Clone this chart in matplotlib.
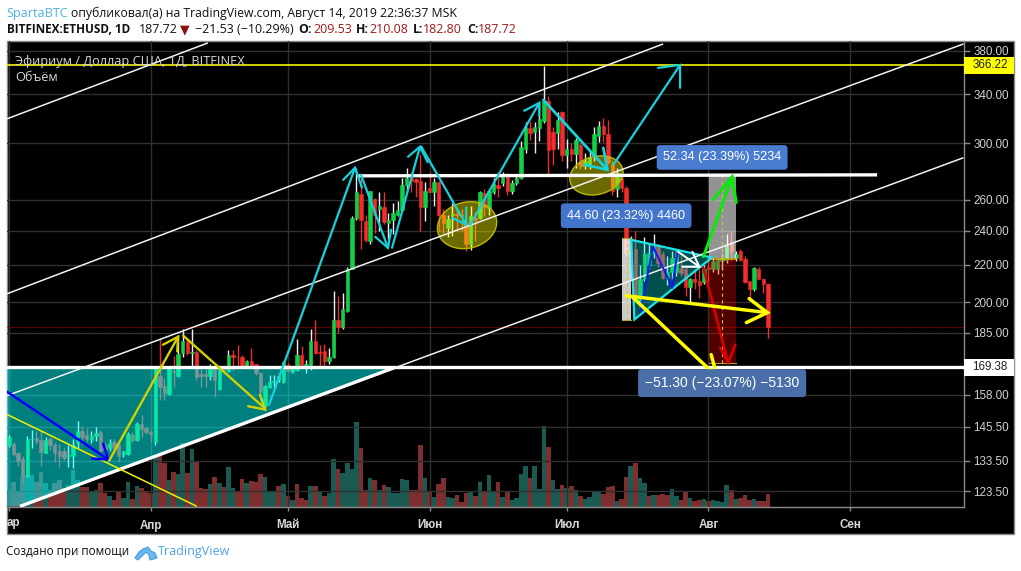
import numpy as np
import matplotlib
matplotlib.use("Agg")
import matplotlib.pyplot as plt
from matplotlib.patches import Polygon, Rectangle

# ---------- data ----------
OPEN = [139,139.4,136.2,134.2,128.5,141,141.3,140.8,136.3,141,
        139,136.9,136.9,135.1,135.2,139.7,144,142.4,140.8,142,
        143.5,138.9,138,140,139,135.9,135.9,142.4,140.8,146.5,
        145,143.6,140,165.6,161.4,158.4,168,165.9,175.8,180.5,
        175.7,176,166.5,166.5,165.6,169,160.4,168.9,168,175,
        174,174,170,172,170.7,167,153.3,161,163.2,164,
        163,170.5,167.6,168.4,175,170.6,170.6,181.4,176,176.4,
        172.2,173.8,191,188,195.5,218,248,264,246,234,
        260.5,253.5,255,245,247,250,253,270,274.5,274,
        272.5,255,268,265,272,250,241.5,250,250.5,250,
        245,232,248,248,264.5,254.5,265,270,271,277,
        266,271.5,275,296,312,309,312,317.5,334,309,
        308,325,291,296,292,299,283,283,291,306,
        314,307.5,285,267,275,268,226,229,198.7,212,
        220,226,231,226,213,216,216,218.5,218,208,
        212,211,210.5,219,218,217.5,222,222.6,233,224,
        228,223.5,211,206.7,218,212.5,209.53]
HIGH = [142.5,140,136.5,135.2,142,144.2,144,144.2,141.8,141.8,
        140,139.4,137.8,139,141,147.7,146,145,144,145.5,
        144.2,140,141,141,139.2,137,143.8,143.5,147.5,150,
        145.5,144.5,169.5,182,165,169.4,174.5,183,187,182,
        187,177,169,168.9,171,170,170,170,177,177,
        179.5,175,172.8,178,171,167.2,162,166.3,166.3,167,
        172,171.5,169.4,182,179,172.8,187,191,179.5,180,
        178,206,203,205,219,249,282,278,250,266,
        261,265,265,251,258,259,275,281.5,279,275,
        292,272,279,275,272.5,254,250,258,254,254,
        256,256,252,266,267,267,274.5,279,279,278.5,
        273,277,302,317,318,317,333,366,339,313,
        325,326,303.5,300,304,300,293,294,313,318,
        320,318.5,287,282,276,269,237,240,220,236,
        232,238,232,228,225,228,229,225,220,213,
        218,218,220,225,224,224,226,238,240,228,
        229,225,211,219,219,213,210.08]
LOW = [138.3,135.2,131.8,125.7,128,137.8,139.4,131.8,136,137.2,
       133.2,131.2,133.8,131.2,131,138,139,140,139.5,140.5,
       136.5,136,137,137.5,133.2,134.6,135.6,140,140.5,141.8,
       143,140,139,156,156,158,161.3,165.2,174,175,
       170,164,161,161,164.2,157,160,167,167.6,168,
       170,169.4,169.5,169.5,166,157,152,160.8,160.8,163,
       162.6,167.2,167,167.8,169.4,167,168.2,175.4,170,170,
       171,173.5,185,187,195,217.6,247,229,233,232,
       239,240,244,235,238,249,252.5,265,265,262,
       240,246,265,256,240,238.5,236,237,240,240,
       228,228.5,234,247.5,249,250,264,262,269,263,
       264,270,274,293,303,293,302,316,276,284,
       296,287,282,287,282,281,281,281,287,301,
       301,285,263,262,265,225,212,200,196.6,211,
       218,224,219,212,209,212,214,214,203,199,
       207,202,209.5,210,216,215,217,221,222,222,
       222,210,202,206,212,205,182.80]
CLOSE = [141.7,135.9,133.5,128.5,141,141.2,140.5,136.6,140.8,139,
         136,135.2,134.5,135.3,139,144,141.8,141,142,143.2,
         137,137.2,139.5,137.8,135.2,136.8,143,140.8,146.5,144.7,
         143.8,143,169,161,158.5,169,167.2,175.2,181,175.5,
         176,165.3,165.6,165.8,169,164,169.4,168.2,175,174,
         173.8,170,172,170.5,166.8,159,161.4,163,163.8,165.5,
         171.7,168,169,175,170.5,170.9,181.4,175.7,175.8,172.2,
         173.8,191,188,196.4,217.7,248,265,247,234.5,265.5,
         250,255.5,245.5,247,251,253,270,275,272.5,272,
         255,265.5,265,271.8,250,245,247.5,250.5,250,249,
         232,249.5,246.5,265,255,266,270.6,268,277,266,
         271.5,275,297,312.4,308,313,319,334,295,296,
         318.7,291,296,292,303,283,287,290,307,314,
         307.5,286,266,278,268,227,228,202.7,212,226,
         227,231,221,213,216,224,226,215.5,208,212,
         210.6,209,218,217.5,222,222.6,224,231,228,226,
         223,210.7,206.7,218.4,212.5,209.5,187.72]
VOLUME = [17,25,16,30,32,32,25,35,24,17,
          24,27,19,22,37,27,20,20,15,17,
          24,14,11,7,15,9,25,8,21,19,
          15,14,52,52,44,27,35,33,64,34,
          58,46,19,18,23,30,24,20,40,19,
          15,28,24,26,25,33,30,15,16,21,
          23,11,7,23,9,7,21,21,15,11,
          14,48,38,34,44,38,85,59,17,29,
          27,17,22,20,14,14,28,27,17,17,
          62,29,15,10,23,29,10,9,12,5,
          14,16,11,25,16,32,15,25,10,15,
          7,9,33,41,29,41,18,81,60,27,
          18,22,19,21,17,11,8,10,15,16,
          13,20,21,6,8,30,41,44,29,24,
          11,12,12,13,12,18,11,7,16,9,
          6,7,8,6,7,6,5,22,17,8,
          9,12,7,8,6,6,13]
VOLUME_SIDE = ("rrrrggrrgr" "rrrgggrrgg" "rrgrrggrgr" "rrgrrgrggr" "grrrgrgrgg"
               "rrgrrrgggr" "grgrrrgrgr" "ggrggggrrg" "rgrgggggrr" "rgrgrrggrr"
               "rgrgrggrgr" "ggggrgggrg" "grgrgrgggg" "rrrgrrgrgg" "rgrrrggrrg"
               "rrgrggggrg" "rrrgrrr")

MONTH_DAYS = [0, 31, 61, 92, 122, 153, 184]
MONTH_LABELS = ["", "Апр", "Май", "Июн", "Июл", "Авг", "Сен"]
PRICE_TICKS = [380, 340, 300, 260, 240, 220, 200, 185, 158, 145.5, 133.5, 123.5]
RESISTANCE = 366.22
SUPPORT = 169.38
LAST_CLOSE = 187.72

# drawings on the chart, as (day, price)
CHANNELS = [[(-0.44, 319.5), (43.5, 387.8)],
            [(-0.44, 204.4), (143.1, 386.8)],
            [(-0.44, 157.6), (208.8, 386.8)],
            [(2.41, 118.8), (208.8, 289.3)]]
THICK_WHITE = [[(2.41, 118.8), (84.5, 169.4)],
               [(76.4, 276.2), (189.9, 276.9)]]
TEAL_ZONE = [(-0.44, 169.4), (84.5, 169.4), (2.41, 118.8), (-0.44, 118.8)]
TRIANGLE = [(136.1, 234.6), (153.8, 224.2), (136.8, 191.4)]
BLUE_ZIG = [(138.1, 195.3), (140.9, 230.5), (145.1, 207.6), (146.2, 227)]
YELLOW_THIN = [(-0.44, 150.2), (41.1, 118.8)]
ARROWS = [
 ("#0000ff", 1.8, [(-0.44, 159.2), (21.7, 133.9)], [(18.2, 134.2), (21.7, 133.9), (20.6, 139.4)]),
 ("#d2d200", 1.7, [(21.9, 133.5), (37.0, 183.2)], [(33.7, 179.5), (37.0, 183.2), (36.8, 176.4)]),
 ("#d2d200", 1.7, [(38.1, 183.7), (56.0, 152.5)], [(52.3, 153.4), (56.0, 152.1), (54.9, 158.0)]),
 ("#16d2dc", 1.6, [(56.9, 154), (75.7, 282)], [(73.1, 273.4), (75.7, 282), (77.2, 268)]),
 ("#16d2dc", 1.6, [(77.0, 276.9), (82.9, 229.9)], [(80.1, 236.4), (82.9, 229.9), (83.6, 240.7)]),
 ("#16d2dc", 1.6, [(83.8, 229.9), (89.9, 297.5)], [(87.3, 290), (89.9, 297.5), (91.6, 286)]),
 ("#16d2dc", 1.6, [(90.2, 297.5), (100, 243.8)], [(96.9, 248.2), (100, 243.8), (100, 254.6)]),
 ("#16d2dc", 1.6, [(100.9, 243.8), (116, 332.8)], [(112.7, 326.1), (116, 332.8), (116, 322)]),
 ("#16d2dc", 2.0, [(116.9, 335.3), (130.9, 280.5)], [(126, 284.1), (130.9, 280.5), (130, 296.7)]),
 ("#16d2dc", 1.6, [(132.2, 284.1), (146.8, 366.6)], [(142, 363.9), (146.8, 366.6), (146.8, 345.8)]),
 ("#ffffff", 1.5, [(146.4, 227.5), (151, 219)], [(147.3, 219), (151, 219), (149.5, 227.5)]),
 ("#00f000", 2.1, [(151.9, 224.7), (158.2, 275.5)], [(154, 259.8), (158.2, 275.5), (159.1, 258)]),
 ("#d80000", 1.9, [(151.9, 218.5), (157.3, 171.4)], [(155.6, 178.1), (157.3, 171.4), (158.9, 179.5)]),
 ("#ffff00", 2.5, [(135, 203.4), (165.9, 194.8)], [(161.9, 201.9), (165.9, 194.8), (161.3, 189.9)]),
 ("#ffff00", 2.5, [(136.3, 202.9), (154.9, 165.4)], [(150.1, 167.1), (154.9, 165.4), (153.6, 175)]),
]
ELLIPSES = [(100.2, 243.5, 30, 23, -14), (128.5, 276.5, 27, 19, -14)]
GRAY_BOX = [(153.2, 159.1, 224.2, 276.2)]
RED_BOX = [(153.2, 159.1, 171.4, 223.6)]
PALE_BOX = [(134.1, 136.1, 191.4, 235.5)]
DASHES = [(156.0, 224.2, 276.2), (156.0, 171.4, 223.6), (135.1, 191.4, 235.5)]
LABELS = [("52.34 (23.39%) 5234", 156.0, 289.5, "#4a7ccf", 9.1),
          ("44.60 (23.32%) 4460", 135.0, 249.5, "#4475cc", 9.1),
          ("\u221251.30 (\u221223.07%) \u22125130", 156.0, 162.7, "#4a6fa8", 10.0)]

# ---------- layout ----------
W, H = 1021, 571
fig = plt.figure(figsize=(W / 100, H / 100), dpi=100, facecolor="white")
plt.rcParams["font.family"] = ["Liberation Sans", "DejaVu Sans"]

fig.patches.append(Rectangle((6.5 / W, 1 - 534 / H), 1007.5 / W, 493 / H, transform=fig.transFigure,
                             facecolor="black", edgecolor="#8a8a8a", linewidth=1, figure=fig, zorder=-1))
rect = [7 / W, 1 - 507 / H, 956.5 / W, 466 / H]
ax_v = fig.add_axes(rect, zorder=1)
ax = fig.add_axes(rect, zorder=2, facecolor="none")
XL = (-0.44, 208.8)
YL = (118.6, 389.7)
PX_PER_DAY = 956.5 / (XL[1] - XL[0])
PX_PER_LOG = 466 / np.log(YL[1] / YL[0])

days = np.arange(len(OPEN))
O, Hi, Lo, C = map(np.array, (OPEN, HIGH, LOW, CLOSE))

# volume
ax_v.set_xlim(*XL)
ax_v.set_ylim(0, 466)
ax_v.bar(days, VOLUME, width=1.0, linewidth=0, antialiased=False,
         color=["#1a5a52" if s == "g" else "#7d2e2e" for s in VOLUME_SIDE])
ax_v.axis("off")

ax.set_xlim(*XL)
ax.set_yscale("log")
ax.set_ylim(*YL)
ax.minorticks_off()
ax.set_yticks(PRICE_TICKS)
ax.set_yticklabels([f"{t:.2f}" for t in PRICE_TICKS], fontsize=8.4, color="#d0d0d0")
ax.tick_params(axis="y", which="minor", length=0, labelright=False, labelleft=False)
ax.yaxis.tick_right()
ax.tick_params(axis="y", length=4, width=1, color="#8a8a8a", pad=3)
ax.set_xticks(MONTH_DAYS)
ax.set_xticklabels(MONTH_LABELS, fontsize=8.4, color="#d8d8d8", fontweight="bold")
ax.tick_params(axis="x", length=3, width=1, color="#8a8a8a", pad=6)
fig.text(7 / W, 1 - 523 / H, "ар", fontsize=8.4, color="#d8d8d8", fontweight="bold", va="center")
ax.grid(True, color="#303030", linewidth=1, zorder=0)
ax.set_axisbelow(True)
for s in ("top", "left"):
    ax.spines[s].set_visible(False)
for s in ("right", "bottom"):
    ax.spines[s].set_color("#8a8a8a")
    ax.spines[s].set_linewidth(1)

# candles
up = C >= O
ax.vlines(days, Lo, Hi, colors=["#f0f0f0" if u else "#ef2d2d" for u in up], linewidth=1, zorder=2)
ax.bar(days, np.abs(C - O), bottom=np.minimum(O, C), width=0.76,
       color=["#14d048" if u else "#f42c2c" for u in up],
       edgecolor=["#14d048" if u else "#f42c2c" for u in up], linewidth=0.4, zorder=2.5)

# shaded zones
ax.add_patch(Polygon(TEAL_ZONE, closed=True, facecolor="#00ffff", alpha=0.5, linewidth=0, zorder=3))
ax.add_patch(Polygon(TRIANGLE, closed=True, facecolor="#00e0e0", alpha=0.36, edgecolor="none", zorder=3))
ax.add_patch(Polygon(TRIANGLE, closed=True, fill=False, edgecolor="#19e6ea", linewidth=1.6, zorder=4))
for x0, x1, p0, p1 in GRAY_BOX:
    ax.add_patch(Rectangle((x0, p0), x1 - x0, p1 - p0, facecolor="white", alpha=0.58, linewidth=0, zorder=3))
for x0, x1, p0, p1 in RED_BOX:
    ax.add_patch(Rectangle((x0, p0), x1 - x0, p1 - p0, facecolor="#ff0000", alpha=0.32, linewidth=0, zorder=3))
    ax.plot([x0, x1], [p0, p0], color="#b8a030", lw=0.8, zorder=3.2)
    ax.plot([x0, x1], [p1, p1], color="#d8c020", lw=1.1, zorder=3.2)
for x0, x1, p0, p1 in PALE_BOX:
    ax.add_patch(Rectangle((x0, p0), x1 - x0, p1 - p0, facecolor="white", alpha=0.8, linewidth=0, zorder=3))
    ax.plot([x0, x1], [p0, p0], color="#b8a030", lw=0.8, zorder=3.2)
    ax.plot([x0, x1], [p1, p1], color="#b8a030", lw=0.8, zorder=3.2)
for x, p0, p1 in DASHES:
    ax.plot([x, x], [p0, p1], color="#d6c040", lw=0.8, ls=(0, (3, 3)), zorder=3.4)

# ellipses (pixel-sized radii around a price point)
t = np.linspace(0, 2 * np.pi, 120)
for cx, cp, a, b, rot in ELLIPSES:
    r = np.radians(rot)
    dx = a * np.cos(t) * np.cos(r) - b * np.sin(t) * np.sin(r)
    dy = a * np.cos(t) * np.sin(r) + b * np.sin(t) * np.cos(r)
    pts = np.c_[cx + dx / PX_PER_DAY, cp * np.exp(-dy / PX_PER_LOG)]
    ax.add_patch(Polygon(pts, closed=True, facecolor="#ffff00", alpha=0.42, edgecolor="none", zorder=3.5))
    ax.add_patch(Polygon(pts, closed=True, fill=False, edgecolor="#b8b800", linewidth=1.0, zorder=3.5))

# levels and channels
ax.axhline(RESISTANCE, color="#f4f400", lw=1.2, zorder=4)
ax.axhline(SUPPORT, color="white", lw=2.4, zorder=4)
ax.axhline(LAST_CLOSE, color="#8c0000", lw=0.8, ls=(0, (1, 0.6)), zorder=1.5)
for seg in CHANNELS:
    ax.plot(*zip(*seg), color="#f2f2f2", lw=1.1, zorder=4, solid_capstyle="butt")
for seg in THICK_WHITE:
    ax.plot(*zip(*seg), color="white", lw=2.4, zorder=4, solid_capstyle="butt")
ax.plot(*zip(*YELLOW_THIN), color="#f0f000", lw=1.1, zorder=4, solid_capstyle="butt")
ax.plot(*zip(*BLUE_ZIG), color="#1414ff", lw=1.4, zorder=4.2)
for col, lw, shaft, head_pts in ARROWS:
    ax.plot(*zip(*shaft), color=col, lw=lw, zorder=4.5, solid_capstyle="round")
    ax.plot(*zip(*head_pts), color=col, lw=lw, zorder=4.5, solid_capstyle="round", solid_joinstyle="miter")

# measurement labels
for txt, x, p, col, fs in LABELS:
    ax.text(x, p, txt, color="white", fontsize=fs, ha="center", va="center", zorder=7,
            bbox=dict(boxstyle="round,pad=0.5,rounding_size=0.25", facecolor=col, edgecolor="none"))

# last-level boxes on the price axis
ytrans = ax.get_yaxis_transform()
for level, face in ((RESISTANCE, "#ffff00"), (SUPPORT, "#ffffff")):
    f = np.exp(8.5 / PX_PER_LOG)
    ax.add_patch(Rectangle((1.0, level / f), 50 / 956.5, level * f - level / f, transform=ytrans,
                           facecolor=face, linewidth=0, clip_on=False, zorder=8))
    ax.text(1 + 9 / 956.5, level, f"{level:.2f}", transform=ytrans, color="#202020", fontsize=8.4,
            ha="left", va="center", clip_on=False, zorder=9)

# legend text on the chart
LEG = dict(transform=fig.transFigure, color="#d8d8d8", fontsize=9.2, zorder=10, family=["Open Sans"])
fig.text(15 / W, 1 - 61 / H, "Эфириум / Доллар США, 1Д, BITFINEX", va="center", **LEG)
fig.text(15 / W, 1 - 78 / H, "Объём", va="center", **LEG)

# header lines
HF = ["Open Sans", "DejaVu Sans"]
def head(x, y, s, color="#111111", weight="normal", size=8.8):
    fig.text(x / W, 1 - y / H, s, color=color, fontweight=weight, fontsize=size, va="center", family=HF)
head(6.5, 13, "SpartaBTC", color="#4fb0e8", size=9.1)
head(71, 13, "опубликовал(а) на TradingView.com, Август 14, 2019 22:36:37 MSK", size=8.8)
Y2 = 29.5
head(6.5, Y2, "BITFINEX:ETHUSD, 1D", weight="bold", size=8.5)
head(139, Y2, "187.72", size=9.0)
head(180, Y2, "\u25bc", color="#8b1010", size=9)
head(195, Y2, "\u221221.53 (\u221210.29%)", size=9.0)
DR = "#a11818"
for x, s in ((298, "O:"), (356, "H:"), (413, "L:"), (467, "C:")):
    head(x, Y2, s, weight="bold", size=8.8)
for x, s in ((313, "209.53"), (369, "210.08"), (423, "182.80"), (478, "187.72")):
    head(x, Y2, s, color=DR, size=9.0)

# footer
head(6, 552, "Создано при помощи", size=8.4)
head(158, 552, "TradingView", color="#4ba3e3", size=9.0)
LOGO = [(135, 558), (139, 552), (143, 549), (148, 547), (151, 551), (155, 553), (157, 558), (150, 560),
        (149, 555), (146, 552), (142, 556), (138, 560)]
fig.patches.append(Polygon([(x / W, 1 - y / H) for x, y in LOGO], closed=True, transform=fig.transFigure,
                           facecolor="#6cb8ee", edgecolor="#3f9fe2", linewidth=0.8, figure=fig))

fig.savefig("out.png", dpi=100, facecolor="white")
